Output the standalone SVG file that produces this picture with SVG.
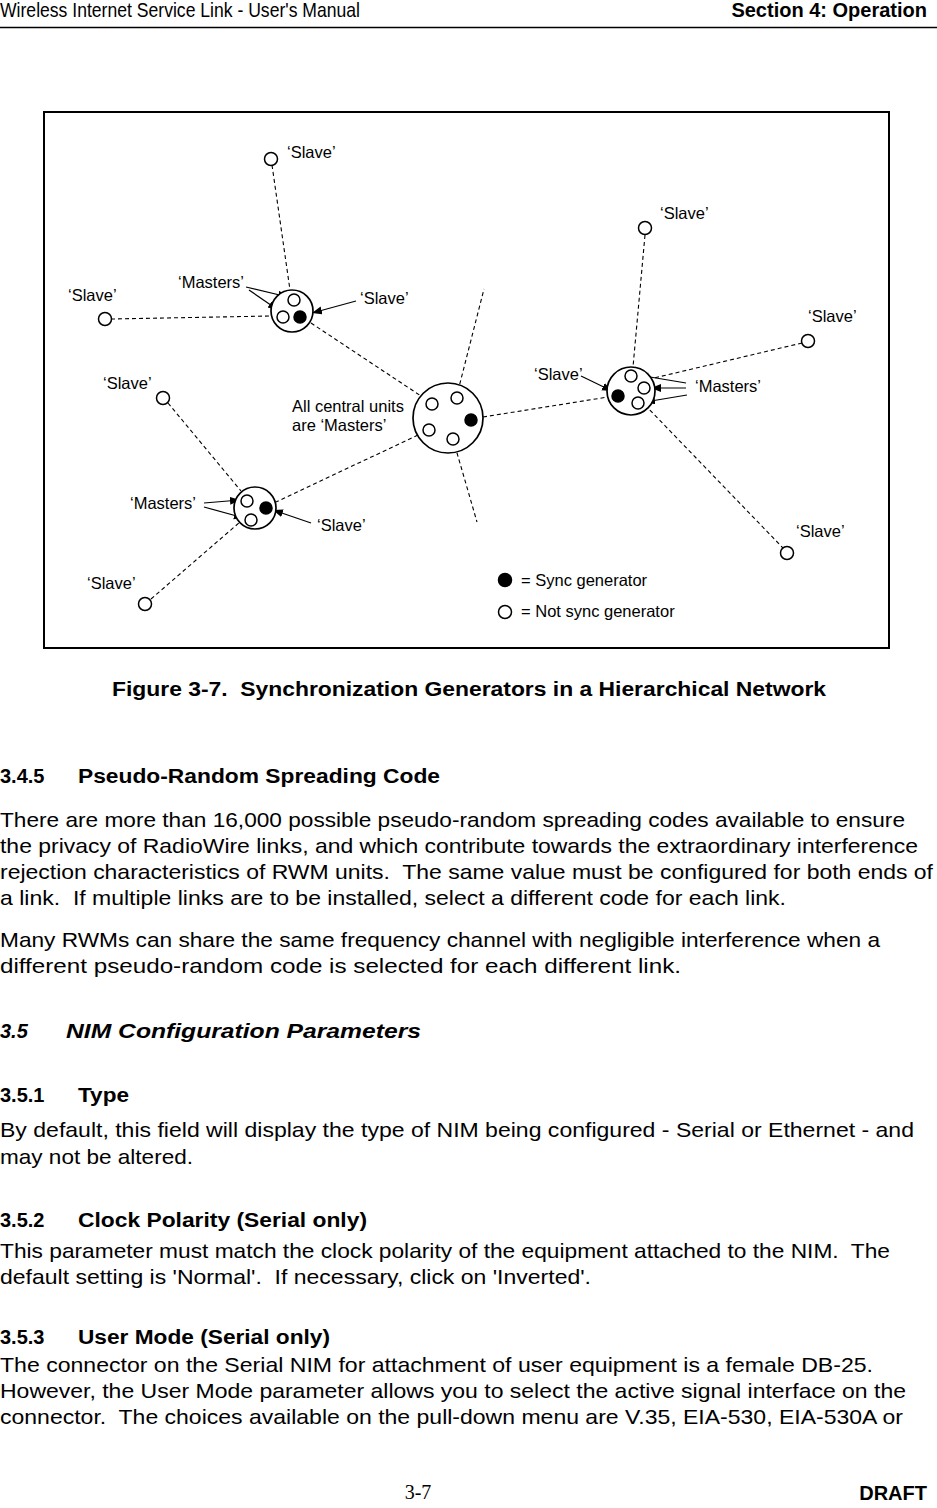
<svg xmlns="http://www.w3.org/2000/svg" width="937" height="1508" viewBox="0 0 937 1508">
<defs>
<style>
text{white-space:pre}
.lbl{font-family:"Liberation Sans",Arial,sans-serif;font-size:16.5px;fill:#000}
.dash{stroke:#000;stroke-width:1.1;stroke-dasharray:4 3;fill:none}
.big{fill:#fff;stroke:#000;stroke-width:1.7}
.unit{fill:#fff;stroke:#000;stroke-width:1.5}
.sync{fill:#000;stroke:#000;stroke-width:1.5}
.ptr{stroke:#000;stroke-width:1.2;fill:none;marker-end:url(#ah)}
.body{font-family:"Liberation Sans",Arial,sans-serif;font-size:21px;fill:#000}
.hd{font-family:"Liberation Sans",Arial,sans-serif;font-size:20px;font-weight:bold;fill:#000}
</style>
<marker id="ah" markerUnits="userSpaceOnUse" markerWidth="11" markerHeight="9" refX="10" refY="4" orient="auto">
<path d="M0,0 L10,4 L0,8 z" fill="#000"/>
</marker>
</defs>
<rect width="937" height="1508" fill="#fff"/>
<g id="page-header">
<text class="body" x="0" y="16.5" font-size="16" textLength="360" lengthAdjust="spacingAndGlyphs">Wireless Internet Service Link - User's Manual</text>
<text class="hd" x="927" y="16.5" font-size="16.5" text-anchor="end">Section 4: Operation</text>
<line x1="0" y1="27.5" x2="937" y2="27.5" stroke="#000" stroke-width="1.5"/>
</g>
<g id="figure">
<rect id="frame" x="44" y="112" width="845" height="536" fill="none" stroke="#000" stroke-width="2"/>
<g id="connectors">
<line class="dash" x1="272" y1="165" x2="290" y2="290"/>
<line class="dash" x1="111" y1="319" x2="271" y2="316"/>
<line class="dash" x1="311" y1="323" x2="427" y2="400"/>
<line class="dash" x1="458" y1="391" x2="484" y2="289"/>
<line class="dash" x1="455" y1="446" x2="477" y2="522"/>
<line class="dash" x1="483" y1="417" x2="608" y2="397"/>
<line class="dash" x1="418" y1="435" x2="276" y2="502"/>
<line class="dash" x1="168" y1="403" x2="241" y2="491"/>
<line class="dash" x1="151" y1="599" x2="240" y2="522"/>
<line class="dash" x1="645" y1="235" x2="633" y2="367"/>
<line class="dash" x1="802" y1="343" x2="654" y2="378"/>
<line class="dash" x1="645" y1="405" x2="783" y2="548"/>
<line class="ptr" x1="246" y1="287" x2="288" y2="297"/>
<line class="ptr" x1="249" y1="290" x2="278" y2="310"/>
<line class="ptr" x1="356" y1="301" x2="312" y2="313"/>
<line class="ptr" x1="204" y1="503" x2="240" y2="500"/>
<line class="ptr" x1="204" y1="507" x2="244" y2="518"/>
<line class="ptr" x1="311" y1="523" x2="273" y2="510"/>
<line class="ptr" x1="581" y1="376" x2="612" y2="391"/>
<line class="ptr" x1="686" y1="383" x2="638" y2="375"/>
<line class="ptr" x1="686" y1="388" x2="651" y2="388"/>
<line class="ptr" x1="687" y1="395" x2="645" y2="402"/>
</g>
<g id="cluster-a">
<circle class="big" cx="292" cy="311" r="21"/>
<circle class="unit" cx="294" cy="300" r="6"/>
<circle class="unit" cx="283" cy="317" r="6"/>
<circle class="sync" cx="300" cy="317" r="6"/>
<text class="lbl" x="178" y="288">‘Masters’</text>
<text class="lbl" x="360" y="304">‘Slave’</text>
</g>
<g id="cluster-central">
<circle class="big" cx="448" cy="418" r="35"/>
<circle class="unit" cx="432" cy="404" r="6"/>
<circle class="unit" cx="457" cy="398" r="6"/>
<circle class="unit" cx="429" cy="430" r="6"/>
<circle class="unit" cx="453" cy="439" r="6"/>
<circle class="sync" cx="471" cy="420" r="6"/>
<text class="lbl" x="292" y="412">All central units</text>
<text class="lbl" x="292" y="431">are ‘Masters’</text>
</g>
<g id="cluster-b">
<circle class="big" cx="631" cy="391" r="24"/>
<circle class="unit" cx="631" cy="376" r="6"/>
<circle class="unit" cx="644" cy="388" r="6"/>
<circle class="unit" cx="638" cy="403" r="6"/>
<circle class="sync" cx="618" cy="396" r="6"/>
<text class="lbl" x="534" y="380">‘Slave’</text>
<text class="lbl" x="695" y="392">‘Masters’</text>
</g>
<g id="cluster-c">
<circle class="big" cx="255" cy="508" r="21"/>
<circle class="unit" cx="247" cy="501" r="6"/>
<circle class="unit" cx="251" cy="520" r="6"/>
<circle class="sync" cx="266" cy="508" r="6"/>
<text class="lbl" x="130" y="509">‘Masters’</text>
<text class="lbl" x="317" y="531">‘Slave’</text>
</g>
<g id="slave-a-top"><circle class="unit" cx="271" cy="159" r="6.5"/><text class="lbl" x="287" y="158">‘Slave’</text></g>
<g id="slave-a-left"><circle class="unit" cx="105" cy="319" r="6.5"/><text class="lbl" x="68" y="301">‘Slave’</text></g>
<g id="slave-c-top"><circle class="unit" cx="163" cy="398" r="6.5"/><text class="lbl" x="103" y="389">‘Slave’</text></g>
<g id="slave-c-bottom"><circle class="unit" cx="145" cy="604" r="6.5"/><text class="lbl" x="87" y="589">‘Slave’</text></g>
<g id="slave-b-top"><circle class="unit" cx="645" cy="228" r="6.5"/><text class="lbl" x="660" y="219">‘Slave’</text></g>
<g id="slave-b-right"><circle class="unit" cx="808" cy="341" r="6.5"/><text class="lbl" x="808" y="322">‘Slave’</text></g>
<g id="slave-b-bottom"><circle class="unit" cx="787" cy="553" r="6.5"/><text class="lbl" x="796" y="537">‘Slave’</text></g>
<g id="legend">
<circle class="sync" cx="505" cy="580" r="6.5"/>
<text class="lbl" x="521" y="586">= Sync generator</text>
<circle class="unit" cx="505" cy="612" r="6.5"/>
<text class="lbl" x="521" y="617">= Not sync generator</text>
</g>
</g>
<g id="text">
<text class="hd" x="112" y="696" font-size="19.5" textLength="714" lengthAdjust="spacingAndGlyphs">Figure 3-7.  Synchronization Generators in a Hierarchical Network</text>
<text class="hd" x="0" y="783">3.4.5</text>
<text class="hd" x="78" y="783" textLength="362" lengthAdjust="spacingAndGlyphs">Pseudo-Random Spreading Code</text>
<text class="body" x="0" y="827" textLength="905" lengthAdjust="spacingAndGlyphs">There are more than 16,000 possible pseudo-random spreading codes available to ensure</text>
<text class="body" x="0" y="853" textLength="918" lengthAdjust="spacingAndGlyphs">the privacy of RadioWire links, and which contribute towards the extraordinary interference</text>
<text class="body" x="0" y="879" textLength="933" lengthAdjust="spacingAndGlyphs">rejection characteristics of RWM units.  The same value must be configured for both ends of</text>
<text class="body" x="0" y="905" textLength="786" lengthAdjust="spacingAndGlyphs">a link.  If multiple links are to be installed, select a different code for each link.</text>
<text class="body" x="0" y="947" textLength="880" lengthAdjust="spacingAndGlyphs">Many RWMs can share the same frequency channel with negligible interference when a</text>
<text class="body" x="0" y="973" textLength="681" lengthAdjust="spacingAndGlyphs">different pseudo-random code is selected for each different link.</text>
<text class="hd" x="0" y="1038" font-size="22" font-style="italic">3.5</text>
<text class="hd" x="66" y="1038" font-size="22" font-style="italic" textLength="355" lengthAdjust="spacingAndGlyphs">NIM Configuration Parameters</text>
<text class="hd" x="0" y="1102">3.5.1</text>
<text class="hd" x="78" y="1102" textLength="51" lengthAdjust="spacingAndGlyphs">Type</text>
<text class="body" x="0" y="1137" textLength="914" lengthAdjust="spacingAndGlyphs">By default, this field will display the type of NIM being configured - Serial or Ethernet - and</text>
<text class="body" x="0" y="1164" textLength="193" lengthAdjust="spacingAndGlyphs">may not be altered.</text>
<text class="hd" x="0" y="1227">3.5.2</text>
<text class="hd" x="78" y="1227" textLength="289" lengthAdjust="spacingAndGlyphs">Clock Polarity (Serial only)</text>
<text class="body" x="0" y="1258" textLength="890" lengthAdjust="spacingAndGlyphs">This parameter must match the clock polarity of the equipment attached to the NIM.  The</text>
<text class="body" x="0" y="1284" textLength="591" lengthAdjust="spacingAndGlyphs">default setting is 'Normal'.  If necessary, click on 'Inverted'.</text>
<text class="hd" x="0" y="1344">3.5.3</text>
<text class="hd" x="78" y="1344" textLength="252" lengthAdjust="spacingAndGlyphs">User Mode (Serial only)</text>
<text class="body" x="0" y="1372" textLength="873" lengthAdjust="spacingAndGlyphs">The connector on the Serial NIM for attachment of user equipment is a female DB-25.</text>
<text class="body" x="0" y="1398" textLength="906" lengthAdjust="spacingAndGlyphs">However, the User Mode parameter allows you to select the active signal interface on the</text>
<text class="body" x="0" y="1424" textLength="903" lengthAdjust="spacingAndGlyphs">connector.  The choices available on the pull-down menu are V.35, EIA-530, EIA-530A or</text>
</g>
<g id="page-footer">
<text x="418" y="1499" font-family="Liberation Serif,'Times New Roman',serif" font-size="20" text-anchor="middle">3-7</text>
<text class="hd" x="927" y="1500" font-size="27" text-anchor="end">DRAFT</text>
</g>
</svg>
